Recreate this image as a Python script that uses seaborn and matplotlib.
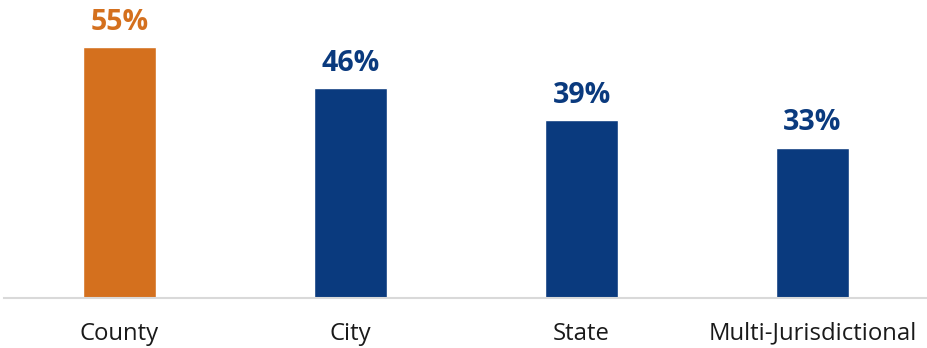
import matplotlib
matplotlib.use("Agg")
import matplotlib.pyplot as plt
import seaborn as sns
import pandas as pd

categories = ["County", "City", "State", "Multi-Jurisdictional"]
values = [55, 46, 39, 33]
colors = ["#D4701E", "#0A3A7E", "#0A3A7E", "#0A3A7E"]

sns.set_theme(style="white")
plt.rcParams["font.family"] = ["Open Sans", "DejaVu Sans"]

df = pd.DataFrame({"category": categories, "value": values})

W, H = 927, 348
fig = plt.figure(figsize=(W / 100, H / 100), dpi=100)
base_y = 298
px_per_unit = 4.56
ymax = 60
ax = fig.add_axes([4 / W, (H - base_y) / H, 924 / W, ymax * px_per_unit / H])

sns.barplot(data=df, x="category", y="value", hue="category", palette=colors,
            legend=False, width=0.315, saturation=1, ax=ax)

ax.set_xlim(-0.5, 3.5)
ax.set_ylim(0, ymax)

for i, (v, c) in enumerate(zip(values, colors)):
    ax.text(i, v + 2.3, f"{v}%", ha="center", va="bottom", fontsize=20.5,
            fontweight="bold", color=c, clip_on=False)

ax.set_xlabel("")
ax.set_ylabel("")
ax.set_yticks([])
ax.tick_params(axis="x", length=0, pad=17, labelsize=17.2, labelcolor="#1a1a1a")
for s in ["top", "right", "left"]:
    ax.spines[s].set_visible(False)
ax.spines["bottom"].set_color("#d9d9d9")
ax.spines["bottom"].set_linewidth(1.5)

fig.savefig("out.png", dpi=100)
